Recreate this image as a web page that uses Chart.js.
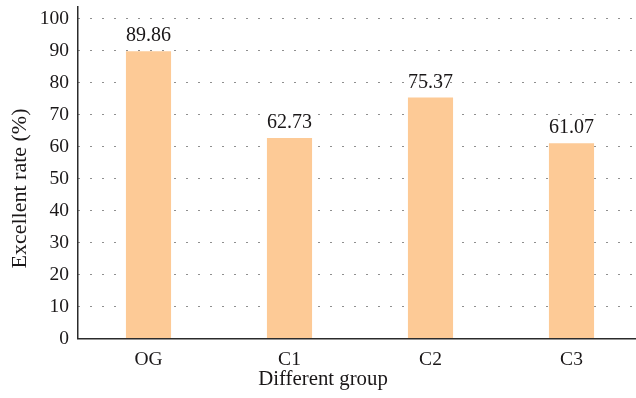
<!DOCTYPE html>
<html>
<head>
<meta charset="utf-8">
<script src="https://cdn.jsdelivr.net/npm/chart.js@4/dist/chart.umd.min.js"></script>
<style>
  html, body { margin: 0; padding: 0; background: #fff; overflow: hidden; }
  #wrap { position: relative; width: 642px; height: 398px; }
</style>
</head>
<body>
<div id="wrap"><canvas id="chart"></canvas></div>
<script>
// Excellent rate per group
const groups = ['OG', 'C1', 'C2', 'C3'];
const excellentRate = [89.86, 62.73, 75.37, 61.07];
const yTickValues = [0, 10, 20, 30, 40, 50, 60, 70, 80, 90, 100];

const xTitle = 'Different group';
const yTitle = 'Excellent rate (%)';

const TEXT = '#1a1718';
const SERIF = '"Liberation Serif", "Times New Roman", serif';

// value labels above each bar
const barValueLabels = {
  id: 'barValueLabels',
  afterDatasetsDraw(chart) {
    const ctx = chart.ctx;
    const meta = chart.getDatasetMeta(0);
    ctx.save();
    ctx.font = '20px ' + SERIF;
    ctx.fillStyle = TEXT;
    ctx.textAlign = 'center';
    ctx.textBaseline = 'alphabetic';
    meta.data.forEach((bar, i) => {
      ctx.fillText(excellentRate[i].toFixed(2), bar.x, bar.y - 10);
    });
    ctx.restore();
  }
};

// axis titles
const axisTitles = {
  id: 'axisTitles',
  afterDraw(chart) {
    const ctx = chart.ctx;
    ctx.save();
    ctx.fillStyle = TEXT;
    ctx.textAlign = 'center';
    ctx.textBaseline = 'middle';
    ctx.font = '20.8px ' + SERIF;
    ctx.fillText(xTitle, 323, 380);
    ctx.font = '22px ' + SERIF;
    ctx.translate(20.5, 188.5);
    ctx.rotate(-Math.PI / 2);
    ctx.fillText(yTitle, 0, 0);
    ctx.restore();
  }
};

new Chart(document.getElementById('chart'), {
  type: 'bar',
  data: {
    labels: groups,
    datasets: [{
      data: excellentRate,
      backgroundColor: '#fdca96',
      borderWidth: 0,
      barPercentage: 0.32,
      categoryPercentage: 1.0
    }]
  },
  options: {
    responsive: true,
    maintainAspectRatio: false,
    animation: false,
    layout: { padding: { left: 40, top: 7, right: 0, bottom: 28 } },
    plugins: {
      legend: { display: false },
      tooltip: { enabled: false },
      title: { display: false }
    },
    scales: {
      x: {
        type: 'category',
        offset: true,
        grid: { display: false, drawTicks: false },
        border: { display: true, color: '#2b2b2b', width: 1.5 },
        ticks: {
          padding: 10,
          color: TEXT,
          font: { family: SERIF, size: 19.5 }
        },
        afterFit(s) { s.height = 31.5; s.paddingLeft = 0; s.paddingRight = 0; }
      },
      y: {
        min: 0,
        max: 103.7,
        afterBuildTicks(s) { s.ticks = yTickValues.map(v => ({ value: v })); },
        grid: {
          drawTicks: false,
          color: '#1e1e1e',
          lineWidth: 1
        },
        border: { display: true, color: '#2b2b2b', width: 1.5, dash: [1, 11] },
        ticks: {
          padding: 9,
          color: TEXT,
          font: { family: SERIF, size: 19.5 }
        },
        afterFit(s) { s.width = 38; s.paddingTop = 0; s.paddingBottom = 0; }
      }
    }
  },
  plugins: [barValueLabels, axisTitles]
});
</script>
</body>
</html>
